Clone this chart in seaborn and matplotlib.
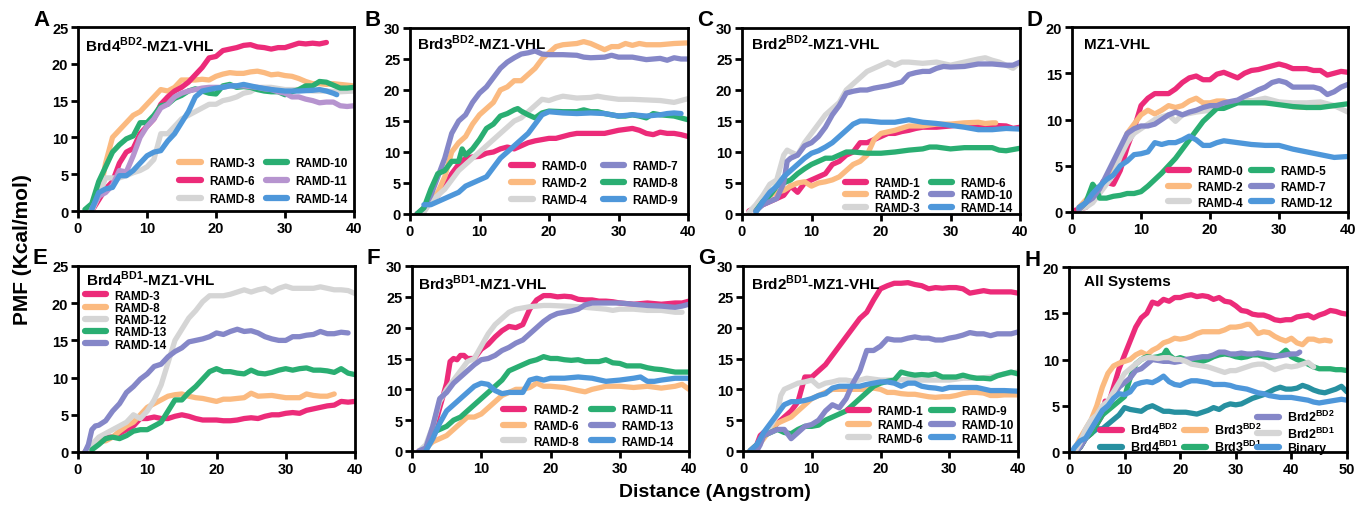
import numpy as np
import pandas as pd
import matplotlib
matplotlib.use("Agg")
import matplotlib.pyplot as plt
from matplotlib.lines import Line2D
import seaborn as sns

# ---------------- colours ----------------
PINK = "#EC2B79"
ORANGE = "#FBBA80"
GRAY = "#D5D5D5"
GREEN = "#2AAE72"
PURPLE = "#8587C8"
LILAC = "#B694CF"
BLUE = "#4E97DA"
TEAL = "#2790A0"

# ---------------- data (x in Angstrom, PMF in kcal/mol) ----------------
# Panel A : Brd4 BD2
a_ramd3 = [(2,0.5),(3,2.5),(3.5,4),(4,6.5),(5,10),(6,11),(7,12),(8,13),(9,13.5),(10,14.5),(11,15.5),(12,16.5),(13,16.3),(14,16.8),(15,17.8),(16,17.8),(17,17.8),(18,17.9),(19,17.8),(20,18.3),(21,18.6),(22,18.8),(23,18.7),(24,18.7),(25,18.9),(26,19),(27,18.8),(28,18.5),(29,18.6),(30,18.4),(31,18.3),(32,18),(33,17.6),(34,17.3),(35,17.3),(36,17.2),(37,17.3),(38,17.2),(39,17.1),(40,17)]
a_ramd6 = [(2,0),(3,1.5),(4,3),(5,4),(6,6.5),(7,8),(8,8.5),(9,10.5),(10,11.5),(11,12.5),(12,14.5),(13,15.5),(14,16.3),(15,16.8),(16,17.5),(17,18.5),(18,19.5),(19,20.8),(20,21),(21,21.8),(22,22),(23,22.2),(24,22.5),(25,22.6),(26,22.3),(27,22.2),(28,22),(29,22.2),(30,22.2),(31,22.5),(32,22.8),(33,22.7),(34,22.8),(35,22.7),(36,22.9)]
a_ramd8 = [(2,0),(3,2),(4,4.5),(5,4.5),(6,4.5),(7,4.8),(8,5.2),(9,5.5),(10,6),(11,7),(12,10.5),(13,10.5),(14,11.5),(15,12.5),(16,13),(17,13.5),(18,14),(19,14.5),(20,14.5),(21,15),(22,15.2),(23,15.5),(24,16),(25,16.2),(26,16.8),(28,16.8),(30,16.5),(32,16.5),(34,16.3),(36,16.3),(38,16.2),(40,16.3)]
a_ramd10 = [(1,0.2),(2,1),(3,4),(4,6),(5,8),(6,9),(7,9.8),(8,10.2),(9,12),(10,12),(11,13),(12,14.3),(13,14.5),(14,15.3),(15,15.7),(16,16.3),(17,16.6),(18,16.3),(19,16),(20,15.9),(21,17),(22,17.2),(23,16.8),(24,16.9),(25,16.8),(26,16.5),(27,16.3),(28,16.2),(29,16.2),(30,15.8),(31,16.2),(32,16.5),(33,17),(34,17),(35,17.6),(36,17.5),(37,17.1),(38,16.7),(39,16.7),(40,16.8)]
a_ramd11 = [(2,0.3),(3,2),(4,2.5),(5,3.5),(6,5.5),(7,5.3),(8,7.5),(9,10),(10,11.5),(11,12.5),(12,14),(13,14.5),(14,15.5),(15,16),(16,16.3),(17,16.5),(18,16.7),(19,16.8),(20,16.8),(21,16.8),(22,17),(24,17),(26,16.8),(27,16.6),(28,16.5),(29,16.2),(30,16),(31,15.5),(32,15.5),(33,15.2),(34,15),(35,14.7),(36,14.8),(37,14.8),(38,14.3),(39,14.2),(40,14.3)]
a_ramd14 = [(2,0.2),(3,2.5),(4,3),(5,3.2),(6,4.8),(7,4.8),(8,5.5),(9,6.5),(10,7.5),(11,8),(12,8.2),(13,9.5),(14,10.5),(15,12),(16,13.5),(17,15.5),(18,16.3),(19,16.5),(20,16.7),(21,16.8),(22,17),(23,17),(24,17.2),(25,17),(26,16.8),(28,16.5),(30,16.3),(32,16.3),(34,16.4),(35,16.5),(36,16.3),(37,16),(37.5,15.8)]

# Panel B : Brd3 BD2
b_ramd0 = [(1,0),(2,0.5),(3,2.5),(4,3),(5,4.5),(6,6.5),(7,8),(8,9),(9,9.2),(10,9.3),(11,9.8),(12,10),(13,10.5),(14,10.8),(15,10.5),(16,11),(17,11.5),(18,11.8),(19,12),(20,12.2),(21,12.2),(22,12.5),(23,12.8),(24,13),(26,13),(28,13),(30,13.5),(32,13.8),(33,13.5),(34,13),(35,12.8),(36,13.2),(37,13),(38,13),(39,12.8),(40,12.5)]
b_ramd2 = [(2,0.5),(3,2),(4,3.5),(5,6),(6,10),(7,11.5),(8,12.5),(9,14.5),(10,16),(11,17),(12,18),(13,20),(14,20.5),(15,21.5),(16,21.5),(17,22.5),(18,23.5),(19,25),(20,26),(21,27),(22,27.3),(24,27.5),(25,27.8),(26,27.5),(27,27),(28,26.5),(29,27),(30,27),(31,27.5),(32,27.2),(33,27.5),(34,27.3),(36,27.3),(38,27.5),(40,27.6)]
b_ramd4 = [(2,0.3),(3,2),(4,3),(5,4),(6,5.5),(7,7),(8,8),(9,9),(10,10),(11,11),(12,12),(13,13),(14,14),(15,15),(16,15.5),(17,16.5),(18,17.5),(19,18.5),(20,18.3),(21,18.7),(22,19),(24,18.7),(26,18.8),(27,19),(28,18.8),(30,18.5),(32,18.5),(34,18.4),(36,18.3),(38,18),(39,18.3),(40,18.6)]
b_ramd7 = [(1,0),(2,1),(3,3),(4,6),(5,9),(6,13),(7,15),(8,16),(9,18),(10,19.5),(11,20.5),(12,22),(13,23.5),(14,24.5),(15,25.2),(16,25.8),(17,26),(18,26.3),(19,25.8),(20,25.7),(22,25.7),(24,25.6),(25,25.3),(26,25.2),(28,25.3),(29,25.6),(30,25.3),(31,25.3),(32,25.3),(34,24.9),(35,25),(36,25.1),(37,24.8),(38,25.2),(39,25),(40,25)]
b_ramd8 = [(1,0),(2,1),(3,4),(4,6.5),(5,7),(6,8.5),(7,8.5),(7.5,10.5),(8,9.5),(9,10.5),(10,12),(11,13.8),(12,14.5),(13,15.8),(14,16.2),(15,16.8),(15.5,17),(16,16.6),(17,16),(18,15.5),(19,16.3),(20,16.6),(22,16.5),(24,16.5),(25,16.8),(26,16.5),(27,16.5),(28,16.2),(29,16),(30,15.8),(31,15.8),(32,16),(33,15.8),(34,15.5),(35,16.2),(36,16),(37,15.9),(38,15.8),(39,15.5),(40,15.2)]
b_ramd9 = [(2,1.5),(3,1.5),(4,2),(5,2.5),(6,3),(7,3.5),(8,4.5),(9,5),(10,5.5),(11,6),(12,7.5),(13,9),(14,10),(15,11),(16,12),(17,13),(18,14.5),(19,16),(20,16.5),(22,16.3),(24,16.2),(26,16.3),(28,16.2),(30,15.8),(32,16),(34,15.8),(36,16),(37,16.2),(38,16.3),(39,16.2)]

# Panel C : Brd2 BD2
c_ramd1 = [(1,0.5),(2,1),(3,1.5),(4,2),(5,2.5),(6,3),(7,4.5),(8,3.5),(9,5),(10,5.5),(11,6),(12,6.5),(13,8),(14,8.5),(15,9.5),(16,10),(17,11.5),(18,11.5),(19,12),(20,12.5),(21,13),(22,13),(23,13.3),(24,13.5),(25,13.8),(26,14),(28,14),(30,14.2),(32,14.5),(34,14.3),(36,14.3),(38,14.2),(39,13.8),(40,14)]
c_ramd2 = [(2,0.5),(3,2),(4,3),(5,3.5),(6,3.8),(7,4.5),(8,5),(9,5.2),(10,4.5),(11,5),(12,5.2),(13,5.5),(14,6),(15,7),(16,8),(17,8.5),(18,9.5),(19,12),(20,13),(22,13.5),(24,14.2),(26,14.2),(28,14.5),(30,14.5),(32,14.7),(34,14.8),(35,14.6),(36,14.7),(36.5,14.7)]
c_ramd3 = [(1,0.3),(2,1.5),(3,3),(4,4.8),(5,5.5),(6,9.5),(6.5,10.3),(7,10),(8,9.5),(9,11.5),(10,13),(11,14.5),(12,16),(13,17),(14,18),(15,20),(16,21),(17,22),(18,23),(19,23.5),(20,24),(21,24.5),(22,24),(23,24.5),(24,24.5),(26,24.3),(28,24.5),(30,24),(32,24.5),(34,25),(35,25.2),(36,24.8),(37,24.5),(38,24),(39,23.5),(39.5,24)]
c_ramd6 = [(2,0.5),(3,2),(4,3),(5,4.5),(6,5),(7,5.5),(8,6.5),(9,7.3),(10,8),(11,8.5),(12,9),(13,9),(14,9.5),(15,10),(16,10),(18,9.8),(20,9.8),(22,10),(24,10.3),(26,10.5),(27,10.8),(28,10.8),(30,10.5),(32,10.7),(34,10.7),(36,10.7),(37,10.3),(38,10.2),(40,10.6)]
c_ramd10 = [(2,0.5),(3,1.5),(4,2),(5,2.5),(6,5),(6.5,8.5),(7,9),(8,9.5),(9,11),(10,11.5),(11,12.5),(12,14),(13,16),(14,17.5),(15,19.5),(16,19.8),(17,20),(18,20),(19,20.3),(20,20.5),(21,20.7),(22,21),(23,21.3),(24,22.5),(25,22.8),(26,23),(27,23),(28,23.5),(29,23.8),(30,23.7),(32,23.8),(34,24.2),(36,24.2),(38,24),(39,24),(40,24.5)]
c_ramd14 = [(2,0.3),(3,2),(4,3.5),(5,4.5),(6,6),(7,7),(8,8),(9,9),(10,9.8),(11,10.2),(12,10.8),(13,11.5),(14,12.5),(15,13.5),(16,14.5),(17,15),(18,15),(20,14.8),(22,14.8),(24,15.2),(26,14.8),(28,14.6),(30,14.3),(32,14),(33,13.8),(34,13.6),(36,13.6),(38,13.8),(40,13.7)]

# Panel D : MZ1-VHL
d_ramd0 = [(0.5,0.2),(1,0.3),(2,0.5),(3,1.5),(4,2.5),(4.5,3.3),(5,3.2),(6,3),(7,4.5),(8,7),(9,9),(10,11.5),(11,12.3),(12,12.8),(13,12.8),(14,12.8),(15,13.3),(16,14),(17,14.5),(18,14.7),(19,14.3),(20,14.3),(21,14.9),(22,15.1),(23,14.8),(24,14.5),(25,15),(26,15.3),(27,15.4),(28,15.6),(29,15.8),(30,16),(31,15.8),(32,15.5),(33,15.5),(34,15.5),(35,15.3),(36,15.3),(37,14.8),(38,15),(39,15.2),(40,15.1)]
d_ramd2 = [(1,0.5),(2,1.3),(3,2),(4,2.5),(5,3.5),(6,4.5),(7,6.5),(8,8.5),(9,9.5),(10,10.5),(11,11),(12,10.6),(13,11),(14,11.5),(15,11.3),(16,11.5),(17,12),(18,12.3),(19,11.8),(20,11.8),(21,12),(22,12),(23,11.8),(24,12),(26,12),(28,11.8),(30,11.8),(32,11.4),(34,11.3),(36,11.5),(38,11.5)]
d_ramd4 = [(1,0.3),(2,0.5),(3,1),(4,2),(5,3),(6,4),(7,6),(8,7.5),(9,8.5),(10,9),(11,9.5),(12,10),(13,10.3),(14,10.5),(15,9.8),(16,10.5),(18,10.8),(20,11),(22,11.5),(24,12),(26,12),(28,12.3),(30,11.9),(32,11.8),(34,11.8),(36,11.9),(38,11.5),(40,10.8)]
d_ramd5 = [(1,0.3),(2,1),(3,3),(3.5,2.5),(4,1.5),(5,1.5),(6,1.7),(7,1.8),(8,2),(9,2),(10,2.2),(11,2.8),(12,3.5),(13,4.2),(14,5),(15,5.8),(16,6.8),(17,7.8),(18,8.8),(19,9.8),(20,10.5),(21,11.2),(22,11.2),(23,11.5),(24,11.8),(26,11.8),(28,11.8),(30,11.6),(32,11.4),(34,11.3),(36,11.3),(38,11.5),(40,11.7)]
d_ramd7 = [(1,0.3),(2,1),(3,1.5),(4,2.5),(5,4),(6,5.5),(7,7),(8,8.5),(9,9),(10,9.3),(11,9.3),(12,9.5),(13,10),(14,10.5),(15,10.8),(16,10.5),(17,10.8),(18,11),(19,11.3),(20,11.5),(21,11.5),(22,11.8),(24,12.1),(25,12.5),(26,12.8),(27,13.2),(28,13.5),(29,14),(30,14.2),(31,14),(32,13.5),(33,13.5),(34,13.5),(35,13.5),(36,13.3),(37,12.7),(38,13),(39,13.5),(40,13.8)]
d_ramd12 = [(1,0.5),(2,1),(3,2),(4,2.8),(5,3.5),(6,4),(7,5),(8,5.5),(9,6.2),(10,6.3),(11,6.5),(12,7.5),(13,7.3),(14,7.5),(15,7.5),(16,7.8),(17,8.2),(18,7.8),(19,7.2),(20,7.2),(21,7.5),(22,7.7),(23,7.6),(24,7.5),(26,7.3),(28,7.2),(30,7.2),(32,6.8),(34,6.5),(36,6.2),(38,5.9),(40,6)]

# Panel E : Brd4 BD1
e_ramd3 = [(1,0),(2,1),(3,1.5),(4,2),(5,2),(6,2.5),(7,3),(8,3.5),(9,4.5),(10,4.5),(11,4.7),(12,4.5),(13,4.5),(14,4.8),(15,5),(16,4.8),(17,4.5),(18,4.3),(19,4.3),(20,4.3),(21,4.2),(22,4.2),(23,4.3),(24,4.5),(25,4.6),(26,4.5),(27,4.8),(28,5),(29,5),(30,5.2),(31,5.3),(32,5.2),(33,5.6),(34,5.8),(35,6),(36,6.2),(37,6.3),(38,6.8),(39,6.7),(40,6.8)]
e_ramd8 = [(1,0),(2,0.8),(3,1.5),(4,1.5),(5,2),(6,2.8),(7,3.5),(8,4),(9,5),(10,6),(11,6.5),(12,7),(13,7.5),(14,7.7),(15,7.8),(16,7.5),(17,7.3),(18,7.2),(19,7),(20,6.8),(21,7.1),(22,7.1),(24,7.3),(25,7.9),(26,7.5),(28,7.6),(30,7.3),(32,7.3),(33,7.8),(34,7.6),(35,7.5),(36,7.5),(37,7.8)]
e_ramd12 = [(1,0),(2,1),(3,2),(4,2.5),(5,3),(6,3.5),(7,4),(8,5),(9,4.5),(10,5.5),(11,7),(12,9),(13,12),(14,15),(15,16.5),(16,18),(17,19),(18,20.2),(19,21),(20,21),(21,21),(22,21.2),(23,21.5),(24,21.8),(25,21.5),(26,21.8),(27,22),(28,21.5),(29,22),(30,22.3),(31,22),(32,22),(33,22),(34,22),(35,22.2),(36,22),(37,21.8),(38,21.8),(39,21.7),(40,21.3)]
e_ramd13 = [(2,0.3),(3,1),(4,1.8),(5,2),(6,1.8),(7,2.2),(8,2.8),(9,3),(10,3),(11,3.5),(12,4),(13,5.5),(14,7),(15,7),(16,8),(17,8.8),(18,9.8),(19,10.8),(20,11.2),(21,10.8),(22,10.8),(23,10.6),(24,10.5),(25,11),(26,10.6),(27,10.5),(28,10.7),(29,11),(30,11.2),(31,11),(32,11.2),(33,11.3),(34,11),(35,11),(36,10.9),(37,10.7),(38,11.2),(39,10.6),(40,10.4)]
e_ramd14 = [(1,0),(1.5,1),(2,3),(2.5,3.5),(3,3.6),(4,4.2),(5,5.5),(6,6.5),(7,8),(8,8.8),(9,9.8),(10,10.5),(11,11.5),(12,11.8),(13,12.8),(14,13.5),(15,14),(16,14.8),(17,15),(18,15.2),(19,15.5),(20,16),(21,15.8),(22,16.2),(23,16.5),(24,16.2),(25,16.3),(26,16),(27,15.5),(28,15.2),(29,15),(30,15),(31,15.5),(32,15.5),(33,15.7),(34,15.8),(35,16.2),(36,15.9),(37,15.9),(38,16.1),(39,16)]

# Panel F : Brd3 BD1
f_ramd2 = [(1,0),(2,0.5),(3,3),(4,7),(5,11),(5.5,14.5),(6,15),(6.5,14.8),(7,15.5),(7.5,15.5),(8,15),(9,15),(10,16.5),(11,17.3),(12,18.5),(13,19.5),(14,20.2),(15,20),(16,20.5),(17,23),(18,24.5),(19,25.2),(20,25.2),(21,25),(22,25.1),(23,25),(24,24.6),(25,24.5),(26,24.5),(27,24.3),(28,24.3),(29,24.2),(30,24),(32,23.8),(34,24),(36,23.8),(38,24),(39,24),(40,24.3)]
f_ramd6 = [(2,0.5),(3,1.5),(4,2),(5,2.5),(6,3.5),(7,4.5),(8,5.5),(9,5.5),(10,6),(11,7),(12,8),(13,9),(14,9.5),(15,10),(16,10),(17,10.3),(18,11),(19,10.5),(20,10.5),(22,10.3),(24,9.8),(25,9.6),(26,10),(28,10.5),(30,10.5),(32,10.3),(34,10.5),(36,10.2),(38,10.5),(39,10.8),(40,10)]
f_ramd8 = [(1,0),(2,1),(3,4),(4,8),(5,10),(6,11.5),(7,13),(8,14.5),(9,15),(10,17),(11,19),(12,20.5),(13,21.5),(14,22.5),(15,23),(16,23.2),(17,23.4),(18,23.5),(19,23.6),(20,23.6),(22,23.5),(24,23.4),(26,23.2),(28,23),(29,22.8),(30,23),(32,23),(34,22.8),(36,22.8),(38,22.5),(39,22.5)]
f_ramd11 = [(2,0.3),(3,3),(4,3.5),(5,4),(6,5),(7,5.5),(8,6.5),(9,7.5),(10,8.5),(11,9.5),(12,10.5),(13,11.5),(14,13),(15,13.5),(16,14),(17,14.5),(18,14.8),(19,15.3),(20,15),(21,15),(22,14.8),(23,14.7),(24,14.8),(25,14.5),(26,14.5),(27,14.5),(28,14.8),(29,14.3),(30,14.2),(31,13.8),(32,13.8),(33,13.8),(34,13.5),(35,13.3),(36,13.2),(37,13),(38,12.8),(39,12.8),(40,12.8)]
f_ramd13 = [(1,0),(2,0.5),(3,4),(4,8.5),(5,9.5),(6,11),(7,12),(8,13),(9,14),(10,14.8),(11,15),(12,15.5),(13,16.3),(14,16.8),(15,17.5),(16,18),(17,19),(18,20),(19,21),(20,21.8),(21,22.3),(22,22.5),(23,22.7),(24,23),(25,23.7),(26,24),(27,24),(28,24),(30,24),(32,23.8),(34,23.6),(36,23.5),(38,23.3),(39,23.5),(40,23.8)]
f_ramd14 = [(2,0),(3,2),(4,4.5),(5,6.5),(6,7.5),(7,8.5),(8,9.5),(9,10.5),(10,11),(11,10.8),(12,9.8),(13,9.3),(14,9.5),(15,9.5),(16,9.5),(17,11.5),(18,11.8),(19,11.5),(20,11.8),(22,11.8),(24,12),(26,11.8),(28,11.3),(30,11.5),(32,11.8),(33,12),(34,11.3),(35,11.3),(36,11.5),(38,11.8),(40,11.8)]

# Panel G : Brd2 BD1
g_ramd1 = [(1,0),(2,1),(2.5,2.5),(3,3),(4,3.5),(5,4.5),(6,5.5),(7,6.5),(8,8),(8.5,10),(9,12),(10,12),(11,13),(12,14),(13,15.5),(14,17),(15,18.5),(16,20),(17,21.5),(18,22.5),(19,24.5),(20,26.3),(21,26.8),(22,27.2),(23,27.2),(24,27.3),(25,27),(26,26.8),(27,26.3),(28,26.5),(29,26.4),(30,26.5),(31,26.5),(32,26.3),(33,25.6),(34,25.8),(35,26),(36,25.8),(37,25.8),(38,25.8),(39,25.8),(40,25.6)]
g_ramd4 = [(2,0.5),(3,2),(4,3.5),(5,4.5),(6,5),(7,5.5),(8,6.5),(9,7.5),(10,8.5),(11,9),(12,9.5),(13,10),(14,10),(15,10),(16,10),(17,10),(18,10),(19,10.2),(20,10),(21,9.5),(22,9.5),(23,9.3),(24,9.2),(25,9.2),(26,9),(27,8.8),(28,8.7),(29,8.8),(30,8.8),(31,9),(32,9.3),(33,9.5),(34,9.5),(35,9.4),(36,9),(37,9),(38,9.1),(39,9.1),(40,9.1)]
g_ramd6 = [(1,0),(2,1),(3,2.5),(4,4),(5,6),(5.5,9),(6,10),(7,10.5),(8,11),(9,11.2),(10,11.5),(11,10.5),(12,11),(13,11.2),(14,11.5),(15,11.5),(16,11.3),(17,11.5),(18,11.8),(20,11.5),(22,11.5),(24,11.6),(26,11.5),(28,11.5),(30,11.5),(32,11.8),(34,11.8),(36,12),(38,12.5),(40,12.8)]
g_ramd9 = [(1,0),(2,1),(3,2.5),(4,3),(5,3.5),(6,3),(7,2.8),(8,3.5),(9,4),(10,4),(11,4.2),(12,5),(13,5.5),(14,6),(15,6.5),(16,7.5),(17,8.5),(18,9.5),(19,10.5),(20,11),(21,11.3),(22,11.5),(23,12.8),(24,12.5),(25,12.3),(26,12.4),(27,12.3),(28,12.5),(29,12),(30,12),(31,12),(32,12.3),(33,12),(34,11.8),(35,11.8),(36,11.7),(37,12.2),(38,12.5),(39,12.8),(40,12.5)]
g_ramd10 = [(2,0),(2.5,1),(3,2.5),(4,3),(5,3.5),(6,3.5),(7,2),(8,3),(9,4),(10,4.3),(11,5),(12,6.5),(13,7.5),(14,7),(15,8.5),(16,11),(17,13),(18,16.3),(19,16.3),(20,17),(21,18.2),(22,18),(23,18),(24,18.3),(25,18.5),(26,18.3),(27,18.3),(28,18),(29,18),(30,18.3),(31,18.5),(32,18.8),(33,19.2),(34,19),(35,19),(36,18.7),(37,19),(38,19),(39,19),(40,19.3)]
g_ramd11 = [(1,0),(2,1),(3,3),(4,4.5),(5,6),(6,7.5),(7,8),(8,8),(9,8.2),(10,8.5),(11,9),(12,9.3),(13,10.2),(14,10.5),(15,10.5),(16,10.5),(17,10.5),(18,10.8),(19,11),(20,11.2),(21,11.2),(22,11),(23,10.5),(24,11),(25,11),(26,10.5),(27,10.3),(28,10.2),(29,10),(30,10.3),(32,10.3),(34,10.3),(36,9.8),(38,9.8),(40,9.7)]

# Panel H : all systems
h_brd4bd2 = [(1,0),(2,0.5),(3,1.5),(4,2),(5,3),(6,4),(6.5,5.5),(7,5),(8,7),(9,9),(10,10.5),(11,12),(12,13.5),(13,14.5),(14,15),(15,16.2),(16,16),(17,16.5),(18,16.3),(19,16.7),(20,16.7),(21,16.9),(22,17),(23,16.8),(24,16.9),(25,16.8),(26,16.5),(27,16.7),(28,16.3),(29,16.2),(30,15.8),(31,15.3),(32,15.2),(33,14.9),(34,14.8),(35,14.8),(36,14.6),(37,14.3),(38,14.2),(39,14.3),(40,14.3),(41,14.6),(42,14.7),(43,14.8),(44,14.5),(45,14.8),(46,15),(47,15.3),(48,15.2),(49,15),(50,14.9)]
h_brd4bd1 = [(1,0),(2,0.5),(3,1.5),(4,2),(5,2.5),(6,2.5),(7,3),(8,3.5),(9,4),(10,4.8),(11,4.6),(12,4.5),(13,4.4),(14,4.8),(15,5),(16,4.7),(17,4.4),(18,4.4),(19,4.3),(20,4.3),(21,4.3),(22,4.2),(23,4.1),(24,4.3),(25,4.5),(26,4.8),(27,4.6),(28,5),(29,5.2),(30,5.1),(31,5.2),(32,5.5),(33,5.8),(34,6),(35,6.2),(36,6.5),(37,6.8),(38,7),(39,6.8),(40,6.8),(41,6.9),(42,7.2),(43,7),(44,6.7),(45,6.5),(46,6.4),(47,6.6),(48,6.8),(49,7.1),(50,6.5)]
h_brd3bd2 = [(1,0.3),(2,1.5),(3,2.5),(4,3.5),(5,5),(6,7),(7,8.5),(8,9.3),(9,9.6),(10,9.8),(11,10),(12,10.5),(13,10.8),(14,10.5),(15,11),(16,11.3),(17,11.8),(18,12),(19,12.3),(20,12.2),(21,12.3),(22,12.5),(23,12.8),(24,13),(25,13),(26,13),(27,13),(28,13.2),(29,13.5),(30,13.5),(31,13.6),(32,13.8),(32.5,13.8),(33,13.5),(34,12.8),(35,13),(36,12.9),(37,12.5),(38,12.2),(39,12),(40,12.3),(41,11.8),(42,11.6),(43,12.2),(44,12.2),(45,12),(46,12.1),(47,12)]
h_brd3bd1 = [(1,0),(2,0.5),(3,1.5),(4,2),(5,3),(6,4),(7,4.5),(8,5),(9,5.5),(10,6),(11,8),(12,9.5),(13,10),(14,10.3),(15,10.2),(16,10.3),(17,10.5),(17.5,11),(18,10.5),(19,10),(20,10.2),(21,10),(22,9.8),(23,9.8),(24,9.8),(25,10),(26,10.3),(27,10.5),(28,10.6),(29,10.5),(30,10.3),(31,10.2),(32,10.3),(33,10.5),(34,10.5),(35,10.3),(36,10.2),(37,10.3),(38,10.5),(39,11),(40,10.3),(41,10),(42,9.8),(43,9.5),(44,9.2),(45,9),(46,9),(47,9),(48,8.9),(49,8.9),(50,8.8)]
h_brd2bd2 = [(1,0),(2,0.5),(3,1.5),(4,2.5),(5,3.5),(6,4.5),(7,5),(8,6),(9,7),(10,7.5),(11,8),(12,8.8),(13,9),(14,9.5),(15,10),(16,9.9),(17,9.8),(18,9.8),(19,9.7),(20,9.8),(21,10),(22,10.1),(23,10.2),(24,10.3),(25,10.3),(26,10.5),(27,10.8),(28,10.8),(29,10.6),(30,10.6),(31,10.7),(32,10.6),(33,10.6),(34,10.7),(35,10.6),(36,10.5),(37,10.4),(38,10.4),(39,10.5),(40,10.6),(41,10.6),(41.5,10.8)]
h_brd2bd1 = [(1,0),(2,1),(3,2.5),(4,3.5),(5,4),(6,5),(7,5.5),(8,6.5),(9,7.5),(10,8.5),(11,9),(12,9.5),(13,10),(14,10.2),(15,10.2),(16,10.1),(17,10.2),(18,10.2),(19,10),(20,10),(21,9.8),(22,9.5),(23,9.4),(24,9.3),(25,9.2),(26,9),(27,8.8),(28,8.6),(29,8.8),(30,8.8),(31,9),(32,9.2),(33,9.4),(34,9.5),(35,9.5),(36,9.2),(37,8.9),(38,9.1),(39,9.3),(40,9.2),(41,9.3),(42,9.5),(43,9.7),(44,9.2)]
h_binary = [(0.5,0),(1,0.5),(2,1.2),(3,1.5),(4,2.5),(5,3.5),(6,4.5),(7,5),(8,5.8),(9,6.3),(10,6.2),(11,6.5),(12,7.3),(13,7.5),(14,7.6),(15,7.5),(16,7.8),(17,8.2),(18,7.6),(19,7.3),(20,7.2),(21,7.5),(22,7.7),(23,7.7),(24,7.6),(25,7.5),(26,7.3),(27,7.3),(28,7.3),(29,7.2),(30,7),(31,6.9),(32,6.8),(33,6.6),(34,6.4),(35,6.3),(36,6.1),(37,6),(38,5.9),(39,5.9),(40,5.9),(41,5.8),(42,5.7),(43,5.6),(44,5.4),(45,5.3),(46,5.4),(47,5.5),(48,5.6),(49,5.7),(50,5.6)]

# ---------------- panel definitions ----------------
BD2 = r"$^{\mathrm{BD2}}$"
BD1 = r"$^{\mathrm{BD1}}$"
panels = [
    dict(tag="A", title="Brd4" + BD2 + "-MZ1-VHL", ymax=25, xmax=40, tpos=(7, 17),
         series=[("RAMD-3", a_ramd3, ORANGE), ("RAMD-6", a_ramd6, PINK), ("RAMD-8", a_ramd8, GRAY),
                 ("RAMD-10", a_ramd10, GREEN), ("RAMD-11", a_ramd11, LILAC), ("RAMD-14", a_ramd14, BLUE)],
         rect=(78, 354, 28, 212),
         leg=dict(loc="lower right", bbox=(1.0, 0.0), ncol=2, ls=0.5, cs=1.0)),
    dict(tag="B", title="Brd3" + BD2 + "-MZ1-VHL", ymax=30, xmax=40, tpos=(7, 14),
         series=[("RAMD-0", b_ramd0, PINK), ("RAMD-2", b_ramd2, ORANGE), ("RAMD-4", b_ramd4, GRAY),
                 ("RAMD-7", b_ramd7, PURPLE), ("RAMD-8", b_ramd8, GREEN), ("RAMD-9", b_ramd9, BLUE)],
         rect=(410, 688, 29, 215),
         leg=dict(loc="lower right", bbox=(0.986, 0.013), ncol=2, ls=0.42, cs=1.4)),
    dict(tag="C", title="Brd2" + BD2 + "-MZ1-VHL", ymax=30, xmax=40, tpos=(9, 14),
         series=[("RAMD-1", c_ramd1, PINK), ("RAMD-2", c_ramd2, ORANGE), ("RAMD-3", c_ramd3, GRAY),
                 ("RAMD-6", c_ramd6, GREEN), ("RAMD-10", c_ramd10, PURPLE), ("RAMD-14", c_ramd14, BLUE)],
         rect=(742, 1020, 29, 215),
         leg=dict(loc="lower right", bbox=(0.996, -0.03), ncol=2, ls=0.04, cs=0.9)),
    dict(tag="D", title="MZ1-VHL", ymax=20, xmax=40, tpos=(12, 17),
         series=[("RAMD-0", d_ramd0, PINK), ("RAMD-2", d_ramd2, ORANGE), ("RAMD-4", d_ramd4, GRAY),
                 ("RAMD-5", d_ramd5, GREEN), ("RAMD-7", d_ramd7, PURPLE), ("RAMD-12", d_ramd12, BLUE)],
         rect=(1072, 1348, 28, 213),
         leg=dict(loc="lower right", bbox=(0.967, -0.013), ncol=2, ls=0.3, cs=0.7)),
    dict(tag="E", title="Brd4" + BD1 + "-MZ1-VHL", ymax=25, xmax=40, tpos=(8, 12),
         series=[("RAMD-3", e_ramd3, PINK), ("RAMD-8", e_ramd8, ORANGE), ("RAMD-12", e_ramd12, GRAY),
                 ("RAMD-13", e_ramd13, GREEN), ("RAMD-14", e_ramd14, PURPLE)],
         rect=(78, 355, 267, 453),
         leg=dict(loc="upper left", bbox=(0.004, 0.905), ncol=1, ls=0.02, cs=1.0)),
    dict(tag="F", title="Brd3" + BD1 + "-MZ1-VHL", ymax=30, xmax=40, tpos=(6, 16),
         series=[("RAMD-2", f_ramd2, PINK), ("RAMD-6", f_ramd6, ORANGE), ("RAMD-8", f_ramd8, GRAY),
                 ("RAMD-11", f_ramd11, GREEN), ("RAMD-13", f_ramd13, PURPLE), ("RAMD-14", f_ramd14, BLUE)],
         rect=(412, 689, 267, 452),
         leg=dict(loc="lower right", bbox=(0.964, -0.013), ncol=2, ls=0.3, cs=1.1)),
    dict(tag="G", title="Brd2" + BD1 + "-MZ1-VHL", ymax=30, xmax=40, tpos=(8, 16),
         series=[("RAMD-1", g_ramd1, PINK), ("RAMD-4", g_ramd4, ORANGE), ("RAMD-6", g_ramd6, GRAY),
                 ("RAMD-9", g_ramd9, GREEN), ("RAMD-10", g_ramd10, PURPLE), ("RAMD-11", g_ramd11, BLUE)],
         rect=(743, 1018, 267, 452),
         leg=dict(loc="lower right", bbox=(1.004, 0.003), ncol=2, ls=0.13, cs=0.7)),
    dict(tag="H", title="All Systems", ymax=20, xmax=50, tpos=(15, 14),
         series=[("Brd4" + BD2, h_brd4bd2, PINK), ("Brd4" + BD1, h_brd4bd1, TEAL),
                 ("Brd3" + BD2, h_brd3bd2, ORANGE), ("Brd3" + BD1, h_brd3bd1, GREEN),
                 ("Brd2" + BD2, h_brd2bd2, PURPLE), ("Brd2" + BD1, h_brd2bd1, GRAY),
                 ("Binary", h_binary, BLUE)],
         rect=(1069, 1347, 268, 453), leg=None),
]

# ---------------- style ----------------
sns.set_style("ticks")
plt.rcParams["font.family"] = ["Liberation Sans", "DejaVu Sans"]
plt.rcParams["font.weight"] = "bold"
plt.rcParams["mathtext.fontset"] = "custom"
plt.rcParams["mathtext.rm"] = "Liberation Sans"
plt.rcParams["mathtext.bf"] = "Liberation Sans:bold"
for k in ["text.color", "axes.labelcolor", "xtick.color", "ytick.color", "axes.edgecolor"]:
    plt.rcParams[k] = "black"

W, H = 1356, 506
fig = plt.figure(figsize=(W / 100, H / 100), dpi=100)
LW = 3.8
LEGFS = 8.5

for p in panels:
    l, r, t, b = p["rect"]
    aw, ah = r - l, b - t
    ax = fig.add_axes([l / W, 1 - b / H, aw / W, ah / H])
    names = [s[0] for s in p["series"]]
    frames = []
    for name, pts, col in p["series"]:
        arr = np.array(pts, dtype=float)
        frames.append(pd.DataFrame({"x": arr[:, 0], "y": arr[:, 1], "s": name}))
    df = pd.concat(frames, ignore_index=True)
    pal = {s[0]: s[2] for s in p["series"]}
    sns.lineplot(data=df, x="x", y="y", hue="s", hue_order=names, palette=pal,
                 linewidth=LW, estimator=None, legend=False, ax=ax)
    ax.set_xlim(0, p["xmax"])
    ax.set_ylim(0, p["ymax"])
    ax.set_xticks(np.arange(0, p["xmax"] + 1, 10))
    ax.set_yticks(np.arange(0, p["ymax"] + 1, 5))
    ax.set_xlabel("")
    ax.set_ylabel("")
    for sp in ax.spines.values():
        sp.set_visible(True)
        sp.set_linewidth(2.0)
        sp.set_color("black")
    ax.tick_params(direction="out", length=5, width=2, labelsize=10.5, pad=2, colors="black")
    for lab in ax.get_xticklabels() + ax.get_yticklabels():
        lab.set_fontweight("bold")
    dx, dy = p["tpos"]
    ax.text(dx / aw, 1 - dy / ah, p["title"], transform=ax.transAxes, fontsize=11,
            fontweight="bold", va="center", ha="left")
    fig.text((l - 45) / W, 1 - (t - 8) / H, p["tag"], fontsize=16, fontweight="bold",
             ha="left", va="center")

    handles = [Line2D([], [], color=s[2], lw=4.5) for s in p["series"]]
    if p["leg"] is not None:
        lg = p["leg"]
        ax.legend(handles, names, loc=lg["loc"], bbox_to_anchor=lg["bbox"], ncol=lg["ncol"],
                  frameon=False, prop=dict(size=LEGFS, weight="bold"), handlelength=1.8,
                  handletextpad=0.7, columnspacing=lg["cs"], labelspacing=lg["ls"],
                  borderaxespad=0.1)
    else:
        leg1 = ax.legend(handles[:4], names[:4], loc="lower left", bbox_to_anchor=(0.09, -0.045),
                         ncol=2, frameon=False, prop=dict(size=9, weight="bold"),
                         handlelength=1.7, handletextpad=0.7, columnspacing=0.5,
                         labelspacing=0.12, borderaxespad=0.1)
        ax.add_artist(leg1)
        ax.legend(handles[4:], names[4:], loc="lower right", bbox_to_anchor=(0.98, -0.045),
                  ncol=1, frameon=False, prop=dict(size=9, weight="bold"),
                  handlelength=1.7, handletextpad=0.7, labelspacing=0.12, borderaxespad=0.1)

fig.text(715 / W, 1 - 493 / H, "Distance (Angstrom)", fontsize=14, fontweight="bold",
         ha="center", va="center")
fig.text(23 / W, 1 - 250 / H, "PMF (Kcal/mol)", fontsize=15, fontweight="bold",
         rotation=90, ha="center", va="center")

fig.savefig("out.png", dpi=100)
